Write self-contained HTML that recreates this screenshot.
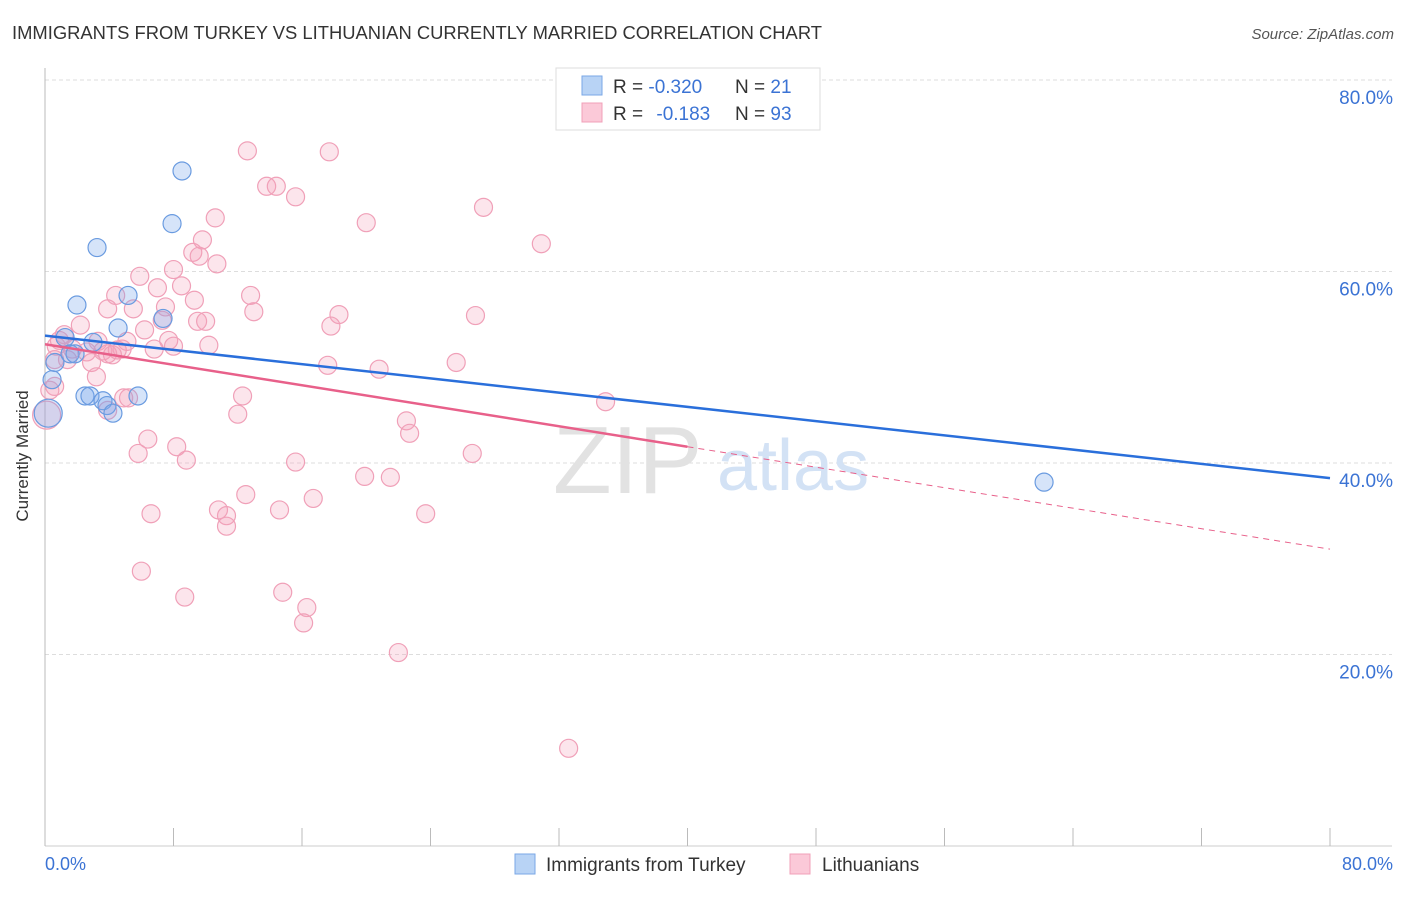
<!DOCTYPE html>
<html><head><meta charset="utf-8"><style>
body{margin:0;background:#fff;font-family:"Liberation Sans",sans-serif;}
svg text{font-family:"Liberation Sans",sans-serif;}
</style></head><body>
<svg width="1406" height="892" viewBox="0 0 1406 892">
<text x="12" y="39" font-size="18" fill="#333" textLength="810" lengthAdjust="spacingAndGlyphs">IMMIGRANTS FROM TURKEY VS LITHUANIAN CURRENTLY MARRIED CORRELATION CHART</text>
<text x="1394" y="39" font-size="15" fill="#555" font-style="italic" text-anchor="end">Source: ZipAtlas.com</text>
<g id="grid"></g>
<g>
<text x="553" y="493" font-size="96" font-family="Liberation Serif" fill="#e2e2e2">ZIP</text>
<text x="717" y="490" font-size="72" fill="#d3e2f5">atlas</text>
</g>
<line x1="45" y1="68" x2="45" y2="846" stroke="#bbb"/>
<line x1="45" y1="846" x2="1392" y2="846" stroke="#ccc"/>
<g id="ticks"></g>
<g id="pts"></g>
<g id="trend"></g>
<text x="28" y="456" font-size="17" fill="#333" transform="rotate(-90 28 456)" text-anchor="middle">Currently Married</text>
<text x="45" y="870" font-size="18" fill="#3b73d4">0.0%</text>
<text x="1393" y="870" font-size="18" fill="#3b73d4" text-anchor="end">80.0%</text>
<g>
<rect x="556" y="68" width="264" height="62" fill="#fff" stroke="#ddd"/>
<rect x="582" y="76" width="20" height="19" fill="#b8d3f5" stroke="#7aa7e6"/>
<rect x="582" y="103" width="20" height="19" fill="#fbc9d8" stroke="#f0a0b8"/>
<text x="613" y="93" font-size="19" fill="#333">R = <tspan fill="#3b73d4">-0.320</tspan><tspan x="735">N = </tspan><tspan fill="#3b73d4">21</tspan></text>
<text x="613" y="120" font-size="19" fill="#333">R = <tspan fill="#3b73d4" dx="8">-0.183</tspan><tspan x="735">N = </tspan><tspan fill="#3b73d4">93</tspan></text>
</g>
<g>
<rect x="515" y="854" width="20" height="20" fill="#b8d3f5" stroke="#7aa7e6"/>
<text x="546" y="871" font-size="19" fill="#333">Immigrants from Turkey</text>
<rect x="790" y="854" width="20" height="20" fill="#fbc9d8" stroke="#f0a0b8"/>
<text x="822" y="871" font-size="19" fill="#333">Lithuanians</text>
</g>
</svg>
<script>
const yTicks=[20,40,60,80];
const yTickLabels=["20.0%","40.0%","60.0%","80.0%"];
const xTickVals=[0,8,16,24,32,40,48,56,64,72,80];
const blueX=[8.53,7.91,3.24,1.99,5.17,4.55,7.35,1.25,2.99,1.56,0.62,0.44,2.49,2.80,3.61,3.86,4.23,5.79,0.2,62.2,1.87];
const blueY=[70.5,65.0,62.5,56.5,57.5,54.1,55.1,53.1,52.6,51.4,50.5,48.7,47.0,47.0,46.5,46.0,45.2,47.0,45.2,38.0,51.4];
const pinkX=[12.6,17.7,13.8,14.4,15.6,27.3,10.6,20.0,9.8,30.9,9.2,9.6,10.7,8.0,5.9,7.0,8.5,4.4,12.8,9.3,3.9,5.5,7.5,13.0,18.3,26.8,7.3,9.5,10.0,17.8,2.2,6.2,1.2,7.7,3.3,5.1,8.0,10.2,6.8,0.7,1.7,2.6,3.6,4.8,3.9,4.2,0.6,2.9,25.6,17.6,20.8,3.2,0.6,12.3,5.2,4.9,34.9,3.9,12.0,22.5,22.7,6.4,8.2,5.8,8.8,15.6,26.6,19.9,21.5,12.5,16.7,10.8,14.6,6.6,11.3,23.7,11.3,6.0,8.7,14.8,16.3,16.1,22.0,32.6,0.3,0.1,0.9,1.4,4.5];
const pinkY=[72.6,72.5,68.9,68.9,67.8,66.7,65.6,65.1,63.3,62.9,62.0,61.6,60.8,60.2,59.5,58.3,58.5,57.5,57.5,57.0,56.1,56.1,56.3,55.8,55.5,55.4,54.9,54.8,54.8,54.3,54.4,53.9,53.4,52.8,52.7,52.7,52.2,52.3,51.9,52.2,51.9,51.6,51.7,51.9,51.4,51.3,50.8,50.5,50.5,50.2,49.8,49.0,48.0,47.0,46.8,46.8,46.4,45.5,45.1,44.4,43.1,42.5,41.7,41.0,40.3,40.1,41.0,38.6,38.5,36.7,36.3,35.1,35.1,34.7,34.5,34.7,33.4,28.7,26.0,26.5,24.9,23.3,20.2,10.2,47.6,45.0,52.8,50.8,51.8];
const blueTrend=[53.3,-0.186];
const pinkTrend=[52.4,-0.2675];
const NS='http://www.w3.org/2000/svg';
const sx=v=>45+v*(1285/80);
const sy=v=>846-v*(766/80);
function mk(tag,attrs,parent){const e=document.createElementNS(NS,tag);for(const k in attrs)e.setAttribute(k,attrs[k]);parent.appendChild(e);return e;}
const grid=document.getElementById('grid');
yTicks.forEach((t,i)=>{
 const l=mk('line',{x1:45,x2:1392,y1:sy(t),y2:sy(t),stroke:'#ddd','stroke-dasharray':'4,3'},grid);
 
 
 const tx=mk('text',{x:1393,y:sy(t)+24,'font-size':19,fill:'#3b73d4','text-anchor':'end'},grid);
 tx.textContent=yTickLabels[i];
 
 
});
const tk=document.getElementById('ticks');
xTickVals.forEach(v=>{
 const l=mk('line',{x1:sx(v),x2:sx(v),y1:828,y2:846,stroke:'#bbb'},tk);
 
 
});
const pts=document.getElementById('pts');
pinkX.forEach((x,i)=>{
 const r=(x<0.5&&pinkY[i]<46)?14:9;
 const c=mk('circle',{cx:sx(x),cy:sy(pinkY[i]),r:r,fill:'rgba(244,160,188,0.28)',stroke:'#f0a0b8','stroke-width':1.2},pts);
 
 
});
blueX.forEach((x,i)=>{
 const r=(x<0.5&&blueY[i]<46)?14:9;
 const c=mk('circle',{cx:sx(x),cy:sy(blueY[i]),r:r,fill:'rgba(120,165,235,0.3)',stroke:'#6a9be0','stroke-width':1.2},pts);
 
 
});
const tr=document.getElementById('trend');
const bl=mk('line',{x1:sx(0),y1:sy(blueTrend[0]),x2:sx(80),y2:sy(blueTrend[0]+blueTrend[1]*80),stroke:'#2a6fdb','stroke-width':2.5},tr);


const pl=mk('line',{x1:sx(0),y1:sy(pinkTrend[0]),x2:sx(40),y2:sy(pinkTrend[0]+pinkTrend[1]*40),stroke:'#e8608a','stroke-width':2.5},tr);


const pd=mk('line',{x1:sx(40),y1:sy(pinkTrend[0]+pinkTrend[1]*40),x2:sx(80),y2:sy(pinkTrend[0]+pinkTrend[1]*80),stroke:'#e8608a','stroke-width':1,'stroke-dasharray':'6,5'},tr);


</script>
</body></html>
